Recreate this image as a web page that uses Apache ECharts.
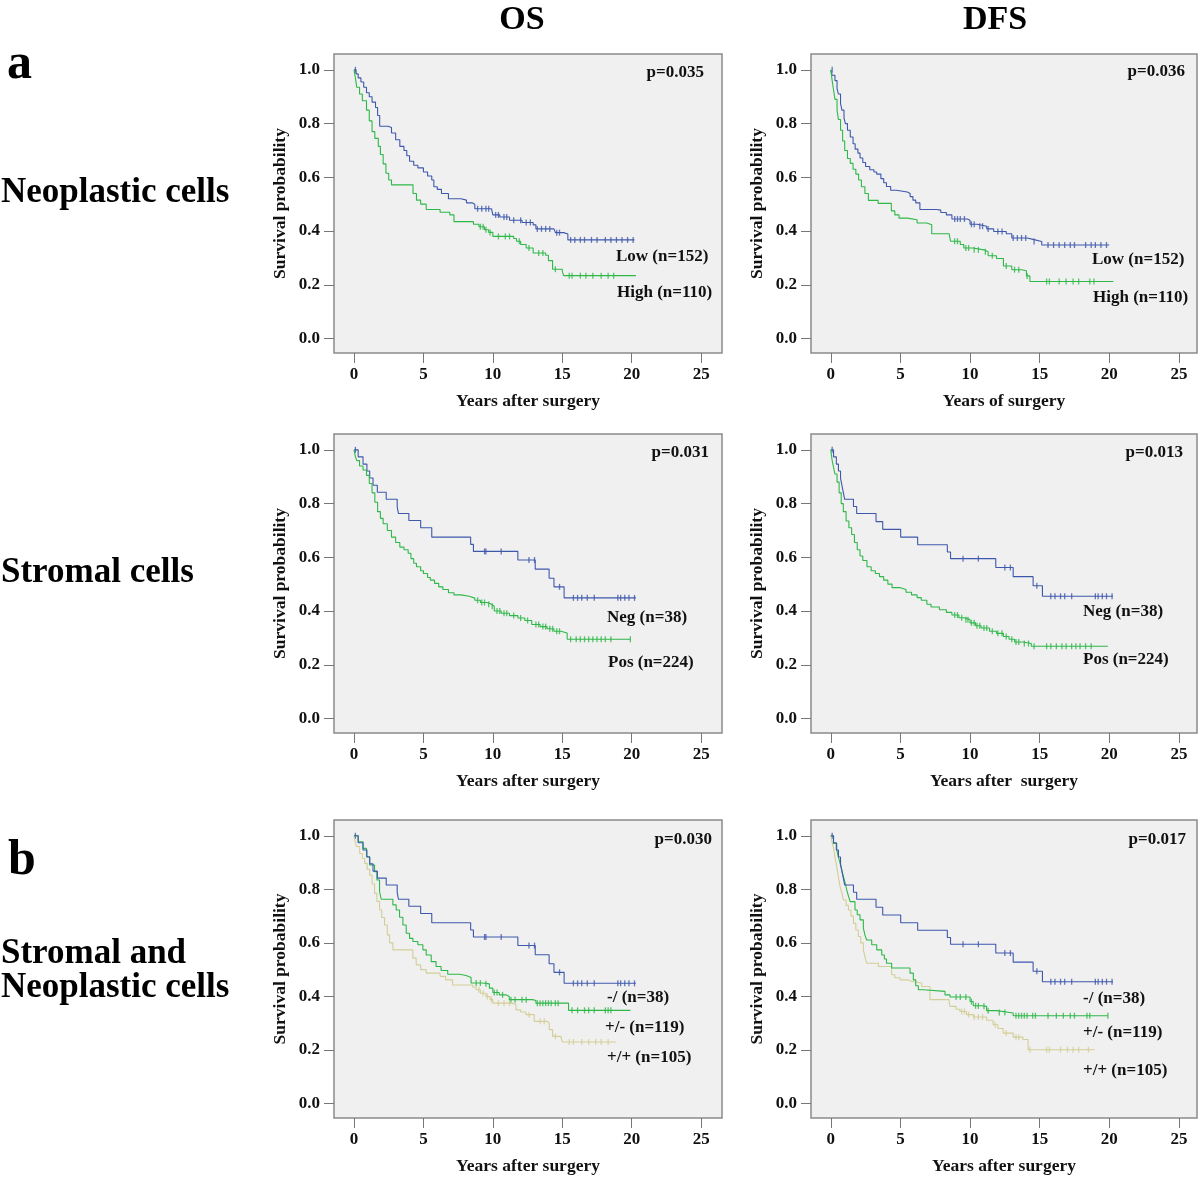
<!DOCTYPE html>
<html>
<head>
<meta charset="utf-8">
<script src="https://cdn.jsdelivr.net/npm/echarts@6/dist/echarts.min.js"></script>
<style>
html,body{margin:0;padding:0;background:#fff;}
#chart{width:1200px;height:1177px;}
</style>
</head>
<body>
<div id="chart"></div>
<script>
// ---------------- DATA (time in years, survival probability) ----------------
const xTicks = [0, 5, 10, 15, 20, 25];
const yTicks = [0, 0.2, 0.4, 0.6, 0.8, 1.0];

// a) Neoplastic cells, OS
const osNeoLow = [[0,1],[0.15,0.985],[0.3,0.97],[0.5,0.955],[0.7,0.935],[0.9,0.915],[1.1,0.9],[1.3,0.88],[1.55,0.86],[1.7,0.83],[1.85,0.79],[2.45,0.785],[2.7,0.765],[3.0,0.74],[3.3,0.715],[3.6,0.7],[3.8,0.68],[4.0,0.66],[4.3,0.645],[4.6,0.635],[5.0,0.62],[5.3,0.605],[5.6,0.59],[5.75,0.565],[6.0,0.555],[6.3,0.54],[6.8,0.52],[7.7,0.515],[8.1,0.505],[8.5,0.5],[8.7,0.483],[9.9,0.478],[10.0,0.46],[10.5,0.452],[11.2,0.44],[12.1,0.432],[12.9,0.423],[13.1,0.408],[14.4,0.404],[14.5,0.394],[15.1,0.389],[15.4,0.367],[20.2,0.367]];
const osNeoLowCens = [[0.1,1],[8.9,0.483],[9.2,0.483],[9.5,0.483],[9.7,0.483],[10.2,0.46],[10.4,0.46],[10.8,0.452],[11.0,0.452],[11.5,0.44],[12.0,0.44],[12.4,0.432],[12.7,0.432],[13.2,0.408],[13.5,0.408],[13.8,0.408],[14.1,0.408],[14.6,0.394],[14.8,0.394],[15.6,0.367],[15.9,0.367],[16.3,0.367],[16.6,0.367],[17.1,0.367],[17.5,0.367],[18.1,0.367],[18.5,0.367],[18.9,0.367],[19.3,0.367],[19.7,0.367],[20.1,0.367]];
const osNeoHigh = [[0,1],[0.1,0.97],[0.2,0.935],[0.4,0.91],[0.6,0.885],[0.9,0.85],[1.1,0.81],[1.3,0.77],[1.5,0.745],[1.75,0.715],[1.9,0.685],[2.1,0.65],[2.3,0.615],[2.5,0.59],[2.7,0.572],[4.25,0.54],[4.5,0.515],[4.8,0.5],[5.2,0.48],[6.2,0.47],[6.9,0.46],[7.2,0.435],[8.6,0.425],[9.0,0.416],[9.4,0.405],[9.7,0.395],[10.0,0.38],[11.5,0.372],[11.7,0.362],[12.0,0.35],[12.4,0.337],[12.9,0.318],[13.8,0.31],[14.0,0.29],[14.3,0.258],[15.0,0.25],[15.1,0.234],[20.3,0.234]];
const osNeoHighCens = [[9.1,0.416],[9.3,0.416],[9.5,0.405],[9.8,0.395],[10.4,0.38],[10.9,0.38],[11.2,0.38],[11.9,0.362],[12.6,0.337],[13.3,0.318],[13.6,0.318],[14.5,0.258],[15.5,0.234],[15.7,0.234],[16.3,0.234],[16.7,0.234],[17.2,0.234],[17.8,0.234],[18.3,0.234],[18.7,0.234]];

// a) Neoplastic cells, DFS
const dfsNeoLow = [[0,1],[0.1,0.98],[0.3,0.96],[0.45,0.93],[0.55,0.91],[0.7,0.875],[0.8,0.85],[0.95,0.82],[1.05,0.8],[1.2,0.775],[1.4,0.75],[1.6,0.725],[1.75,0.705],[1.95,0.69],[2.1,0.672],[2.3,0.655],[2.5,0.64],[2.8,0.628],[3.1,0.62],[3.3,0.612],[3.6,0.595],[3.8,0.58],[4.0,0.566],[4.3,0.552],[4.7,0.545],[5.5,0.54],[5.7,0.528],[5.9,0.515],[6.1,0.505],[6.4,0.48],[7.6,0.478],[7.9,0.469],[8.3,0.46],[8.7,0.445],[9.8,0.44],[10.0,0.425],[10.5,0.418],[11.2,0.408],[11.7,0.398],[12.6,0.39],[13.0,0.374],[14.1,0.368],[14.6,0.361],[15.15,0.348],[20.0,0.348]];
const dfsNeoLowCens = [[0.1,1],[8.9,0.445],[9.1,0.445],[9.3,0.445],[9.6,0.445],[10.1,0.425],[10.3,0.425],[10.7,0.418],[10.9,0.418],[11.3,0.408],[12.0,0.398],[12.3,0.398],[13.1,0.374],[13.4,0.374],[13.7,0.374],[14.0,0.374],[14.6,0.361],[15.6,0.348],[16.0,0.348],[16.4,0.348],[16.8,0.348],[17.2,0.348],[17.5,0.348],[18.3,0.348],[18.7,0.348],[19.0,0.348],[19.4,0.348],[19.8,0.348]];
const dfsNeoHigh = [[0,1],[0.1,0.96],[0.2,0.925],[0.3,0.89],[0.45,0.85],[0.55,0.815],[0.7,0.775],[0.85,0.735],[1.0,0.7],[1.2,0.67],[1.4,0.652],[1.6,0.63],[1.8,0.612],[2.0,0.59],[2.2,0.565],[2.45,0.54],[2.7,0.514],[3.4,0.503],[4.35,0.475],[4.6,0.46],[4.9,0.448],[5.5,0.442],[6.2,0.43],[6.9,0.423],[7.25,0.39],[8.5,0.385],[8.6,0.362],[9.3,0.35],[9.55,0.337],[10.2,0.33],[11.0,0.323],[11.3,0.308],[11.9,0.298],[12.4,0.27],[13.0,0.256],[13.7,0.252],[14.05,0.233],[14.3,0.212],[20.3,0.212]];
const dfsNeoHighCens = [[8.9,0.362],[9.1,0.362],[9.7,0.337],[9.9,0.337],[10.3,0.33],[10.6,0.33],[11.1,0.323],[11.6,0.308],[12.6,0.27],[13.2,0.256],[13.5,0.256],[14.1,0.233],[15.5,0.212],[15.7,0.212],[16.4,0.212],[16.9,0.212],[17.4,0.212],[17.8,0.212],[18.6,0.212],[18.9,0.212]];

// Stromal cells, OS
const osStrNeg = [[0,1],[0.3,0.974],[0.65,0.947],[0.93,0.921],[1.13,0.895],[1.37,0.868],[1.68,0.842],[2.32,0.816],[3.11,0.789],[3.2,0.763],[3.95,0.737],[4.8,0.71],[5.6,0.675],[8.4,0.648],[8.6,0.622],[11.8,0.59],[13.05,0.556],[14.05,0.522],[14.4,0.49],[15.13,0.449],[20.3,0.449]];
const osStrNegCens = [[0.1,1],[9.4,0.622],[9.5,0.622],[10.6,0.622],[12.6,0.59],[13.0,0.59],[14.8,0.49],[15.8,0.449],[16.1,0.449],[16.4,0.449],[16.8,0.449],[17.3,0.449],[19.0,0.449],[19.2,0.449],[19.5,0.449],[19.8,0.449],[20.2,0.449]];
const osStrPos = [[0,1],[0.1,0.975],[0.2,0.96],[0.4,0.94],[0.65,0.925],[0.9,0.905],[1.1,0.875],[1.3,0.84],[1.5,0.805],[1.7,0.77],[1.9,0.745],[2.1,0.725],[2.4,0.7],[2.7,0.675],[3.0,0.655],[3.3,0.638],[3.6,0.628],[3.9,0.615],[4.1,0.595],[4.3,0.578],[4.5,0.565],[4.8,0.55],[5.0,0.54],[5.3,0.525],[5.5,0.515],[5.8,0.503],[6.1,0.49],[6.4,0.48],[6.8,0.468],[7.2,0.46],[7.7,0.455],[8.3,0.448],[8.7,0.44],[9.1,0.432],[9.6,0.425],[9.9,0.418],[10.1,0.4],[10.6,0.392],[11.2,0.383],[11.8,0.374],[12.3,0.365],[12.8,0.35],[13.4,0.342],[13.9,0.334],[14.4,0.325],[14.9,0.318],[15.35,0.295],[19.9,0.295]];
const osStrPosCens = [[8.9,0.44],[9.2,0.432],[9.4,0.432],[9.7,0.425],[9.95,0.418],[10.3,0.4],[10.5,0.4],[10.8,0.392],[11.0,0.392],[11.5,0.383],[12.0,0.374],[12.5,0.365],[13.1,0.35],[13.3,0.35],[13.6,0.342],[13.8,0.342],[14.1,0.334],[14.3,0.334],[14.6,0.325],[14.8,0.325],[15.6,0.295],[16.0,0.295],[16.3,0.295],[16.6,0.295],[16.9,0.295],[17.2,0.295],[17.5,0.295],[17.8,0.295],[18.1,0.295],[18.5,0.295],[19.9,0.295]];

// Stromal cells, DFS
const dfsStrNeg = [[0,1],[0.2,0.974],[0.4,0.947],[0.55,0.921],[0.7,0.895],[0.8,0.868],[0.9,0.842],[1.0,0.816],[1.63,0.789],[1.86,0.763],[3.25,0.733],[3.73,0.704],[5.02,0.675],[6.24,0.647],[8.37,0.62],[8.6,0.595],[11.85,0.562],[13.1,0.528],[14.53,0.494],[15.2,0.455],[20.27,0.455]];
const dfsStrNegCens = [[0.1,1],[9.5,0.595],[10.6,0.595],[12.5,0.562],[12.9,0.562],[14.8,0.494],[15.8,0.455],[16.1,0.455],[16.5,0.455],[16.8,0.455],[17.3,0.455],[19.0,0.455],[19.2,0.455],[19.5,0.455],[19.8,0.455],[20.2,0.455]];
const dfsStrPos = [[0,1],[0.1,0.96],[0.2,0.935],[0.3,0.91],[0.45,0.88],[0.6,0.84],[0.75,0.8],[0.9,0.77],[1.1,0.735],[1.3,0.71],[1.5,0.685],[1.7,0.655],[1.9,0.628],[2.1,0.605],[2.3,0.588],[2.6,0.565],[2.9,0.55],[3.2,0.54],[3.5,0.528],[3.8,0.515],[4.1,0.5],[4.4,0.487],[5.0,0.48],[5.4,0.47],[5.8,0.46],[6.2,0.45],[6.5,0.44],[6.9,0.425],[7.2,0.415],[7.8,0.405],[8.3,0.395],[8.7,0.385],[9.2,0.375],[9.6,0.368],[10.0,0.356],[10.4,0.345],[10.8,0.337],[11.4,0.325],[11.9,0.317],[12.4,0.305],[12.8,0.295],[13.2,0.285],[13.8,0.279],[14.4,0.269],[19.9,0.269]];
const dfsStrPosCens = [[8.9,0.385],[9.1,0.385],[9.4,0.375],[9.7,0.368],[9.85,0.368],[10.1,0.356],[10.3,0.356],[10.5,0.345],[10.7,0.345],[11.0,0.337],[11.2,0.337],[11.6,0.325],[12.0,0.317],[12.3,0.317],[12.6,0.305],[13.0,0.295],[13.3,0.285],[13.5,0.285],[13.9,0.279],[14.2,0.279],[14.6,0.269],[15.5,0.269],[15.8,0.269],[16.2,0.269],[16.6,0.269],[16.9,0.269],[17.3,0.269],[17.6,0.269],[17.9,0.269],[18.3,0.269],[18.7,0.269]];

// b) Stromal and neoplastic cells, OS  (-/ uses the Neg group above)
const osComboMid = [[0,1],[0.3,0.978],[0.65,0.953],[0.9,0.922],[1.13,0.891],[1.48,0.866],[1.65,0.835],[1.84,0.791],[1.96,0.763],[2.8,0.742],[3.04,0.723],[3.28,0.696],[3.52,0.667],[3.76,0.636],[4.0,0.617],[4.24,0.605],[4.6,0.593],[4.96,0.574],[5.2,0.555],[5.56,0.53],[5.91,0.512],[6.27,0.497],[6.75,0.483],[7.6,0.478],[8.07,0.471],[8.43,0.45],[9.27,0.447],[9.75,0.431],[10.0,0.415],[10.46,0.406],[10.94,0.4],[11.18,0.388],[12.86,0.385],[13.1,0.375],[15.45,0.348],[19.9,0.348]];
const osComboMidCens = [[8.8,0.45],[9.1,0.45],[9.5,0.447],[10.1,0.415],[10.3,0.415],[10.7,0.406],[11.3,0.388],[11.6,0.388],[12.1,0.388],[12.4,0.388],[13.2,0.375],[13.4,0.375],[13.6,0.375],[13.8,0.375],[14.0,0.375],[14.2,0.375],[14.5,0.375],[14.7,0.375],[15.7,0.348],[16.1,0.348],[16.6,0.348],[16.9,0.348],[17.3,0.348],[18.1,0.348],[18.3,0.348],[18.5,0.348]];
const osComboHigh = [[0,1],[0.1,0.975],[0.17,0.96],[0.41,0.934],[0.6,0.915],[0.77,0.897],[0.95,0.875],[1.13,0.853],[1.3,0.82],[1.48,0.785],[1.65,0.755],[1.84,0.723],[2.0,0.695],[2.2,0.667],[2.4,0.63],[2.56,0.6],[2.8,0.574],[4.24,0.543],[4.48,0.518],[4.8,0.5],[5.2,0.487],[6.2,0.475],[6.6,0.462],[7.1,0.443],[8.55,0.435],[8.79,0.425],[9.1,0.412],[9.5,0.4],[9.8,0.388],[10.0,0.375],[11.4,0.37],[11.66,0.35],[12.0,0.342],[12.38,0.332],[12.98,0.307],[13.9,0.3],[14.06,0.276],[14.3,0.251],[14.9,0.245],[15.0,0.23],[18.85,0.23]];
const osComboHighCens = [[9.0,0.425],[9.3,0.412],[9.6,0.4],[9.9,0.388],[10.4,0.375],[10.8,0.375],[11.2,0.375],[12.6,0.332],[13.4,0.307],[13.7,0.307],[14.5,0.251],[15.5,0.23],[15.8,0.23],[16.4,0.23],[16.9,0.23],[17.4,0.23],[17.8,0.23],[18.3,0.23]];

// b) Stromal and neoplastic cells, DFS  (-/ uses the Neg group above)
const dfsComboMid = [[0,1],[0.19,0.971],[0.43,0.947],[0.55,0.92],[0.67,0.897],[0.8,0.87],[0.91,0.847],[1.05,0.82],[1.15,0.797],[1.27,0.775],[1.39,0.754],[1.74,0.723],[1.9,0.705],[2.1,0.686],[2.34,0.655],[2.45,0.63],[2.58,0.611],[2.94,0.593],[3.3,0.574],[3.66,0.555],[3.85,0.54],[4.0,0.524],[4.37,0.506],[5.69,0.487],[5.93,0.462],[6.1,0.44],[6.29,0.425],[6.64,0.419],[8.2,0.406],[8.56,0.398],[10.0,0.381],[10.23,0.365],[10.83,0.363],[11.19,0.347],[11.9,0.34],[12.86,0.338],[13.1,0.328],[19.9,0.328]];
const dfsComboMidCens = [[9.0,0.398],[9.3,0.398],[9.7,0.398],[10.1,0.381],[10.4,0.365],[10.6,0.365],[11.0,0.363],[11.3,0.347],[12.1,0.34],[12.5,0.34],[13.3,0.328],[13.5,0.328],[13.7,0.328],[13.9,0.328],[14.1,0.328],[14.5,0.328],[14.7,0.328],[15.6,0.328],[16.2,0.328],[16.7,0.328],[17.2,0.328],[17.5,0.328],[18.4,0.328],[18.6,0.328],[19.9,0.328]];
const dfsComboHigh = [[0,1],[0.1,0.975],[0.19,0.957],[0.3,0.92],[0.43,0.884],[0.55,0.845],[0.67,0.81],[0.8,0.785],[0.91,0.76],[1.1,0.74],[1.27,0.723],[1.45,0.7],[1.63,0.673],[1.8,0.648],[1.98,0.624],[2.15,0.6],[2.34,0.574],[2.45,0.55],[2.58,0.524],[3.42,0.512],[4.37,0.481],[4.6,0.47],[4.97,0.462],[5.5,0.455],[5.93,0.45],[6.53,0.437],[7.12,0.388],[8.5,0.38],[8.56,0.363],[9.0,0.352],[9.27,0.344],[9.75,0.332],[10.23,0.323],[11.19,0.311],[11.66,0.294],[12.0,0.28],[12.38,0.263],[13.1,0.248],[13.8,0.239],[14.17,0.201],[18.95,0.201]];
const dfsComboHighCens = [[9.4,0.344],[9.6,0.344],[9.9,0.332],[10.3,0.323],[10.6,0.323],[10.9,0.323],[11.8,0.294],[12.6,0.263],[13.3,0.248],[13.5,0.248],[14.3,0.201],[15.5,0.201],[15.7,0.201],[16.5,0.201],[17.0,0.201],[17.4,0.201],[17.8,0.201],[18.5,0.201]];

// Texts
const colTitles = ['OS', 'DFS'];
const pValues = ['p=0.035', 'p=0.036', 'p=0.031', 'p=0.013', 'p=0.030', 'p=0.017'];
const xTitles = ['Years after surgery', 'Years of surgery', 'Years after surgery', 'Years after  surgery', 'Years after surgery', 'Years after surgery'];
const yTitle = 'Survival probability';
const groupLabels = [
  ['Low (n=152)', 'High (n=110)'],
  ['Low (n=152)', 'High (n=110)'],
  ['Neg (n=38)', 'Pos (n=224)'],
  ['Neg (n=38)', 'Pos (n=224)'],
  ['-/ (n=38)', '+/- (n=119)', '+/+ (n=105)'],
  ['-/ (n=38)', '+/- (n=119)', '+/+ (n=105)']
];

// ---------------- LAYOUT / STYLE ----------------
const FONT = '"Liberation Serif", "Times New Roman", serif';
const BLUE = '#3E58AC', GREEN = '#2EB848', TAN = '#D3CE97';
const colLeft = [334, 811], colWidth = [388, 386];
const rowTop = [54, 434, 820], rowHeight = [299, 299, 298];
const colXRange = [[-1.44, 26.5], [-1.42, 26.3]];

const panels = [
  { curves: [[osNeoLow, osNeoLowCens, BLUE], [osNeoHigh, osNeoHighCens, GREEN]] },
  { curves: [[dfsNeoLow, dfsNeoLowCens, BLUE], [dfsNeoHigh, dfsNeoHighCens, GREEN]] },
  { curves: [[osStrNeg, osStrNegCens, BLUE], [osStrPos, osStrPosCens, GREEN]] },
  { curves: [[dfsStrNeg, dfsStrNegCens, BLUE], [dfsStrPos, dfsStrPosCens, GREEN]] },
  { curves: [[osComboHigh, osComboHighCens, TAN], [osComboMid, osComboMidCens, GREEN], [osStrNeg, osStrNegCens, BLUE]] },
  { curves: [[dfsComboHigh, dfsComboHighCens, TAN], [dfsComboMid, dfsComboMidCens, GREEN], [dfsStrNeg, dfsStrNegCens, BLUE]] }
];

// label positions (pixels) for text annotations
const pPos = [[704, 73], [1185, 72], [709, 453], [1183, 453], [712, 840], [1186, 840]];
const labelPos = [
  [[616, 257], [617, 293]],
  [[1092, 260], [1093, 298]],
  [[607, 618], [608, 663]],
  [[1083, 612], [1083, 660]],
  [[607, 998], [605, 1028], [607, 1058]],
  [[1083, 999], [1083, 1033], [1083, 1071]]
];

const grids = [], xAxes = [], yAxes = [], series = [], graphics = [];
panels.forEach((p, i) => {
  const c = i % 2, r = Math.floor(i / 2);
  grids.push({ left: colLeft[c], top: rowTop[r], width: colWidth[c], height: rowHeight[r], show: true,
    backgroundColor: '#f0f0f0', borderColor: '#8a8a8a', borderWidth: 1.5 });
  const lbl = { fontFamily: FONT, fontWeight: 'bold', fontSize: 17, color: '#111' };
  const ttl = Object.assign({}, lbl, { fontSize: 17.5 });
  xAxes.push({ type: 'value', gridIndex: i, min: colXRange[c][0], max: colXRange[c][1],
    axisLine: { show: false, onZero: false },
    axisTick: { show: true, length: 10, customValues: xTicks, lineStyle: { color: '#777', width: 1 } },
    axisLabel: Object.assign({ customValues: xTicks, margin: 13, formatter: v => String(v) }, lbl),
    splitLine: { show: false },
    name: xTitles[i], nameLocation: 'middle', nameGap: 39, nameTextStyle: ttl });
  yAxes.push({ type: 'value', gridIndex: i, min: -0.054, max: 1.059,
    axisLine: { show: false, onZero: false },
    axisTick: { show: true, length: 10, customValues: yTicks, lineStyle: { color: '#777', width: 1 } },
    axisLabel: Object.assign({ customValues: yTicks, margin: 14, formatter: v => v.toFixed(1) }, lbl),
    splitLine: { show: false },
    name: yTitle, nameLocation: 'middle', nameGap: 45, nameTextStyle: ttl });
  p.curves.forEach(([data, cens, color]) => {
    series.push({ type: 'line', xAxisIndex: i, yAxisIndex: i, data: data, step: 'end', showSymbol: false,
      symbol: 'none', lineStyle: { color: color, width: 1.1 }, silent: true, animation: false });
    series.push({ type: 'scatter', xAxisIndex: i, yAxisIndex: i, data: cens, symbol: 'rect',
      symbolSize: [1.3, 6], itemStyle: { color: color }, silent: true, animation: false });
  });
  graphics.push({ type: 'text', x: pPos[i][0], y: pPos[i][1],
    style: { text: pValues[i], font: 'bold 17px ' + FONT, fill: '#111', align: 'right', verticalAlign: 'middle' } });
  groupLabels[i].forEach((t, k) => {
    graphics.push({ type: 'text', x: labelPos[i][k][0], y: labelPos[i][k][1],
      style: { text: t, font: 'bold 17px ' + FONT, fill: '#111', align: 'left', verticalAlign: 'middle' } });
  });
});

// Column / row headings
const big = 'bold 35px ' + FONT;
graphics.push({ type: 'text', x: 522, y: 20, style: { text: colTitles[0], font: 'bold 34px ' + FONT, fill: '#000', align: 'center', verticalAlign: 'middle' } });
graphics.push({ type: 'text', x: 995, y: 20, style: { text: colTitles[1], font: 'bold 34px ' + FONT, fill: '#000', align: 'center', verticalAlign: 'middle' } });
graphics.push({ type: 'text', x: 7, y: 65, style: { text: 'a', font: 'bold 50px ' + FONT, fill: '#000', align: 'left', verticalAlign: 'middle' } });
graphics.push({ type: 'text', x: 8, y: 861, style: { text: 'b', font: 'bold 50px ' + FONT, fill: '#000', align: 'left', verticalAlign: 'middle' } });
graphics.push({ type: 'text', x: 1, y: 193, style: { text: 'Neoplastic cells', font: big, fill: '#000', align: 'left', verticalAlign: 'middle' } });
graphics.push({ type: 'text', x: 1, y: 573, style: { text: 'Stromal cells', font: big, fill: '#000', align: 'left', verticalAlign: 'middle' } });
graphics.push({ type: 'text', x: 1, y: 954, style: { text: 'Stromal and', font: big, fill: '#000', align: 'left', verticalAlign: 'middle' } });
graphics.push({ type: 'text', x: 1, y: 988, style: { text: 'Neoplastic cells', font: big, fill: '#000', align: 'left', verticalAlign: 'middle' } });

const chart = echarts.init(document.getElementById('chart'), null, { renderer: 'canvas' });
chart.setOption({
  animation: false,
  backgroundColor: '#ffffff',
  grid: grids,
  xAxis: xAxes,
  yAxis: yAxes,
  series: series,
  graphic: graphics
});
</script>
</body>
</html>
